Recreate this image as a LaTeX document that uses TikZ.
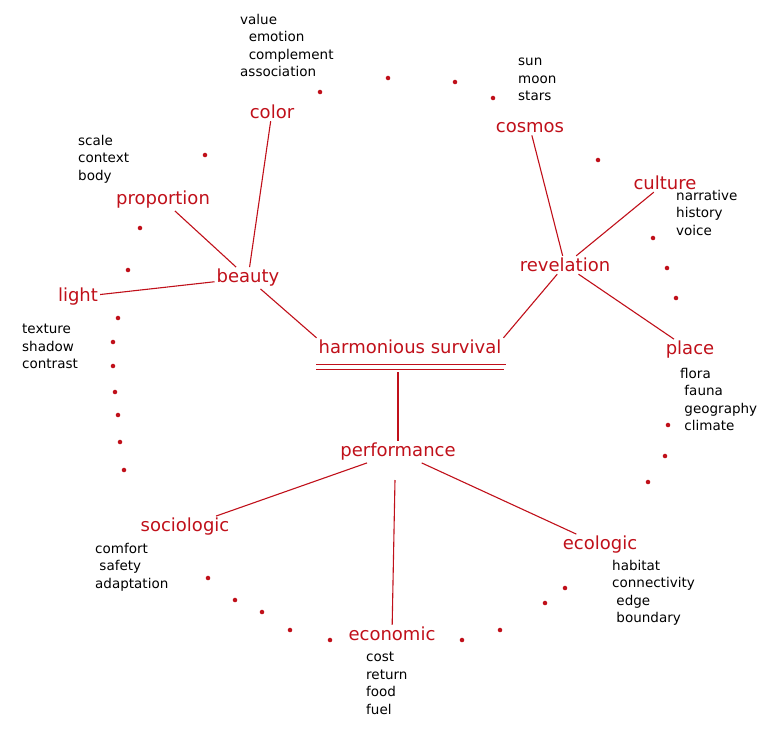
\documentclass[tikz,border=0pt]{standalone}
\usepackage{fontspec}
\setmainfont{DejaVu Sans}
\definecolor{ink}{HTML}{C0101A}
\begin{document}
\begin{tikzpicture}[x=1pt,y=-1pt,
  red/.style={text=ink,font=\fontsize{18}{20}\selectfont,inner sep=2pt},
  lst/.style={font=\fontsize{13.5}{17.5}\selectfont,align=left,inner sep=0pt},
  con/.style={draw=ink,line width=1.1pt},
  dot/.style={fill=ink,circle,inner sep=1.6pt}]
\useasboundingbox (0,0) rectangle (780,732);
\node[red] (hs) at (410,347) {harmonious survival};
\draw[ink,line width=1pt] (316,364)--(506,364) (316,369)--(504,369);
\node[red] (be) at (248,278) {beauty};
\node[red] (re) at (565,265) {revelation};
\node[red] (pe) at (398,452) {performance};
\node[red] (co) at (272,112) {color};
\node[red] (pr) at (163,200) {proportion};
\node[red] (li) at (78,297) {light};
\node[red] (cs) at (530,128) {cosmos};
\node[red] (cu) at (665,183) {culture};
\node[red] (pl) at (690,350) {place};
\node[red] (so) at (185,527) {sociologic};
\node[red] (ec) at (392,634) {economic};
\node[red] (el) at (600,545) {ecologic};
\node[lst,anchor=north west] (l1) at (240,14) {value\\\ \ emotion\\\ \ complement\\association};
\node[lst,anchor=north west] (l2) at (78,135) {scale\\context\\body};
\node[lst,anchor=north west] (l3) at (22,324) {texture\\shadow\\contrast};
\node[lst,anchor=north west] (l4) at (518,58) {sun\\moon\\stars};
\node[lst,anchor=north west] (l5) at (676,190) {narrative\\history\\voice};
\node[lst,anchor=north west] (l6) at (680,368) {flora\\\ fauna\\\ geography\\\ climate};
\node[lst,anchor=north west] (l7) at (95,543) {comfort\\\ safety\\adaptation};
\node[lst,anchor=north west] (l8) at (366,652) {cost\\return\\food\\fuel};
\node[lst,anchor=north west] (l9) at (612,560) {habitat\\connectivity\\\ edge\\\ boundary};
\draw[con] (co)--(be); \draw[con] (pr)--(be); \draw[con] (li)--(be);
\draw[con] (be)--(hs.north west);
\draw[con] (cs)--(re); \draw[con] (cu)--(re); \draw[con] (pl)--(re);
\draw[con] (re)--(hs.north east);
\draw[con] (398,372)--(pe);
\draw[con] (pe)--(so); \draw[con] (pe)--(el);
\draw[con] (395,480)--(ec);
\foreach \p in {(320,92),(388,78),(455,82),(493,98),(205,155),(598,160),(140,228),(653,238),(667,268),(128,270),(676,298),(118,318),(113,342),(113,366),(115,392),(118,415),(120,442),(124,470),(668,425),(665,456),(648,482),(208,578),(235,600),(262,612),(290,630),(330,640),(462,640),(500,630),(545,603),(565,588)}
  \node[dot] at \p {};
\end{tikzpicture}
\end{document}
